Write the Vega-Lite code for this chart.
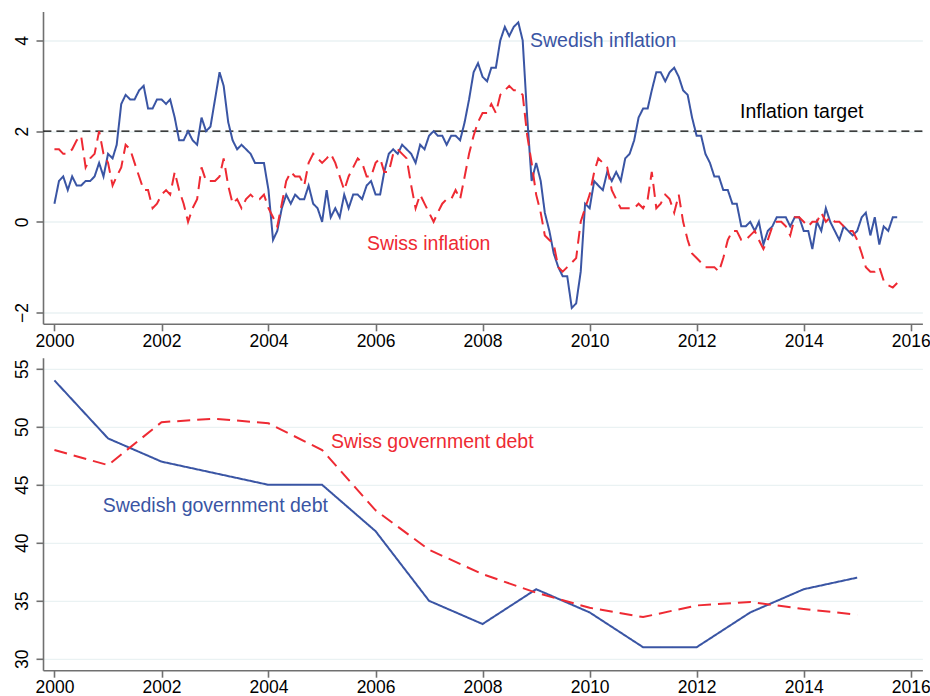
{
  "$schema": "https://vega.github.io/schema/vega-lite/v6.json",
  "background": "white",
  "padding": {"left": 13, "top": 11.5, "right": 5, "bottom": 0},
  "config": {
    "font": "Liberation Sans",
    "view": {"stroke": null},
    "axis": {
      "domainColor": "#707070", "domainWidth": 1.6,
      "tickColor": "#707070", "tickWidth": 1.6, "tickSize": 7,
      "labelFont": "Liberation Sans", "labelFontSize": 17.5, "labelColor": "#000000",
      "gridColor": "#eaf2f3", "gridWidth": 1.3,
      "title": null, "labelFlush": false, "labelOverlap": false
    }
  },
  "datasets": {
    "inflation": [
      {"date":"2000-01","country":"Sweden","cpi":0.4},{"date":"2000-02","country":"Sweden","cpi":0.9},{"date":"2000-03","country":"Sweden","cpi":1.0},{"date":"2000-04","country":"Sweden","cpi":0.7},{"date":"2000-05","country":"Sweden","cpi":1.0},{"date":"2000-06","country":"Sweden","cpi":0.8},{"date":"2000-07","country":"Sweden","cpi":0.8},{"date":"2000-08","country":"Sweden","cpi":0.9},{"date":"2000-09","country":"Sweden","cpi":0.9},{"date":"2000-10","country":"Sweden","cpi":1.0},{"date":"2000-11","country":"Sweden","cpi":1.3},{"date":"2000-12","country":"Sweden","cpi":1.0},
      {"date":"2001-01","country":"Sweden","cpi":1.5},{"date":"2001-02","country":"Sweden","cpi":1.4},{"date":"2001-03","country":"Sweden","cpi":1.7},{"date":"2001-04","country":"Sweden","cpi":2.6},{"date":"2001-05","country":"Sweden","cpi":2.8},{"date":"2001-06","country":"Sweden","cpi":2.7},{"date":"2001-07","country":"Sweden","cpi":2.7},{"date":"2001-08","country":"Sweden","cpi":2.9},{"date":"2001-09","country":"Sweden","cpi":3.0},{"date":"2001-10","country":"Sweden","cpi":2.5},{"date":"2001-11","country":"Sweden","cpi":2.5},{"date":"2001-12","country":"Sweden","cpi":2.7},
      {"date":"2002-01","country":"Sweden","cpi":2.7},{"date":"2002-02","country":"Sweden","cpi":2.6},{"date":"2002-03","country":"Sweden","cpi":2.7},{"date":"2002-04","country":"Sweden","cpi":2.3},{"date":"2002-05","country":"Sweden","cpi":1.8},{"date":"2002-06","country":"Sweden","cpi":1.8},{"date":"2002-07","country":"Sweden","cpi":2.0},{"date":"2002-08","country":"Sweden","cpi":1.8},{"date":"2002-09","country":"Sweden","cpi":1.7},{"date":"2002-10","country":"Sweden","cpi":2.3},{"date":"2002-11","country":"Sweden","cpi":2.0},{"date":"2002-12","country":"Sweden","cpi":2.1},
      {"date":"2003-01","country":"Sweden","cpi":2.7},{"date":"2003-02","country":"Sweden","cpi":3.3},{"date":"2003-03","country":"Sweden","cpi":3.0},{"date":"2003-04","country":"Sweden","cpi":2.2},{"date":"2003-05","country":"Sweden","cpi":1.8},{"date":"2003-06","country":"Sweden","cpi":1.6},{"date":"2003-07","country":"Sweden","cpi":1.7},{"date":"2003-08","country":"Sweden","cpi":1.6},{"date":"2003-09","country":"Sweden","cpi":1.5},{"date":"2003-10","country":"Sweden","cpi":1.3},{"date":"2003-11","country":"Sweden","cpi":1.3},{"date":"2003-12","country":"Sweden","cpi":1.3},
      {"date":"2004-01","country":"Sweden","cpi":0.7},{"date":"2004-02","country":"Sweden","cpi":-0.4},{"date":"2004-03","country":"Sweden","cpi":-0.2},{"date":"2004-04","country":"Sweden","cpi":0.3},{"date":"2004-05","country":"Sweden","cpi":0.6},{"date":"2004-06","country":"Sweden","cpi":0.4},{"date":"2004-07","country":"Sweden","cpi":0.6},{"date":"2004-08","country":"Sweden","cpi":0.5},{"date":"2004-09","country":"Sweden","cpi":0.5},{"date":"2004-10","country":"Sweden","cpi":0.8},{"date":"2004-11","country":"Sweden","cpi":0.4},{"date":"2004-12","country":"Sweden","cpi":0.3},
      {"date":"2005-01","country":"Sweden","cpi":0.0},{"date":"2005-02","country":"Sweden","cpi":0.7},{"date":"2005-03","country":"Sweden","cpi":0.1},{"date":"2005-04","country":"Sweden","cpi":0.3},{"date":"2005-05","country":"Sweden","cpi":0.1},{"date":"2005-06","country":"Sweden","cpi":0.6},{"date":"2005-07","country":"Sweden","cpi":0.3},{"date":"2005-08","country":"Sweden","cpi":0.6},{"date":"2005-09","country":"Sweden","cpi":0.6},{"date":"2005-10","country":"Sweden","cpi":0.5},{"date":"2005-11","country":"Sweden","cpi":0.8},{"date":"2005-12","country":"Sweden","cpi":0.9},
      {"date":"2006-01","country":"Sweden","cpi":0.6},{"date":"2006-02","country":"Sweden","cpi":0.6},{"date":"2006-03","country":"Sweden","cpi":1.1},{"date":"2006-04","country":"Sweden","cpi":1.5},{"date":"2006-05","country":"Sweden","cpi":1.6},{"date":"2006-06","country":"Sweden","cpi":1.5},{"date":"2006-07","country":"Sweden","cpi":1.7},{"date":"2006-08","country":"Sweden","cpi":1.6},{"date":"2006-09","country":"Sweden","cpi":1.5},{"date":"2006-10","country":"Sweden","cpi":1.3},{"date":"2006-11","country":"Sweden","cpi":1.7},{"date":"2006-12","country":"Sweden","cpi":1.6},
      {"date":"2007-01","country":"Sweden","cpi":1.9},{"date":"2007-02","country":"Sweden","cpi":2.0},{"date":"2007-03","country":"Sweden","cpi":1.9},{"date":"2007-04","country":"Sweden","cpi":1.9},{"date":"2007-05","country":"Sweden","cpi":1.7},{"date":"2007-06","country":"Sweden","cpi":1.9},{"date":"2007-07","country":"Sweden","cpi":1.9},{"date":"2007-08","country":"Sweden","cpi":1.8},{"date":"2007-09","country":"Sweden","cpi":2.2},{"date":"2007-10","country":"Sweden","cpi":2.7},{"date":"2007-11","country":"Sweden","cpi":3.3},{"date":"2007-12","country":"Sweden","cpi":3.5},
      {"date":"2008-01","country":"Sweden","cpi":3.2},{"date":"2008-02","country":"Sweden","cpi":3.1},{"date":"2008-03","country":"Sweden","cpi":3.4},{"date":"2008-04","country":"Sweden","cpi":3.4},{"date":"2008-05","country":"Sweden","cpi":4.0},{"date":"2008-06","country":"Sweden","cpi":4.3},{"date":"2008-07","country":"Sweden","cpi":4.1},{"date":"2008-08","country":"Sweden","cpi":4.3},{"date":"2008-09","country":"Sweden","cpi":4.4},{"date":"2008-10","country":"Sweden","cpi":4.0},{"date":"2008-11","country":"Sweden","cpi":2.3},{"date":"2008-12","country":"Sweden","cpi":0.9},
      {"date":"2009-01","country":"Sweden","cpi":1.3},{"date":"2009-02","country":"Sweden","cpi":0.9},{"date":"2009-03","country":"Sweden","cpi":0.2},{"date":"2009-04","country":"Sweden","cpi":-0.2},{"date":"2009-05","country":"Sweden","cpi":-0.7},{"date":"2009-06","country":"Sweden","cpi":-1.0},{"date":"2009-07","country":"Sweden","cpi":-1.2},{"date":"2009-08","country":"Sweden","cpi":-1.2},{"date":"2009-09","country":"Sweden","cpi":-1.9},{"date":"2009-10","country":"Sweden","cpi":-1.8},{"date":"2009-11","country":"Sweden","cpi":-1.1},{"date":"2009-12","country":"Sweden","cpi":0.4},
      {"date":"2010-01","country":"Sweden","cpi":0.3},{"date":"2010-02","country":"Sweden","cpi":0.9},{"date":"2010-03","country":"Sweden","cpi":0.8},{"date":"2010-04","country":"Sweden","cpi":0.7},{"date":"2010-05","country":"Sweden","cpi":1.1},{"date":"2010-06","country":"Sweden","cpi":0.9},{"date":"2010-07","country":"Sweden","cpi":1.1},{"date":"2010-08","country":"Sweden","cpi":0.9},{"date":"2010-09","country":"Sweden","cpi":1.4},{"date":"2010-10","country":"Sweden","cpi":1.5},{"date":"2010-11","country":"Sweden","cpi":1.8},{"date":"2010-12","country":"Sweden","cpi":2.3},
      {"date":"2011-01","country":"Sweden","cpi":2.5},{"date":"2011-02","country":"Sweden","cpi":2.5},{"date":"2011-03","country":"Sweden","cpi":2.9},{"date":"2011-04","country":"Sweden","cpi":3.3},{"date":"2011-05","country":"Sweden","cpi":3.3},{"date":"2011-06","country":"Sweden","cpi":3.1},{"date":"2011-07","country":"Sweden","cpi":3.3},{"date":"2011-08","country":"Sweden","cpi":3.4},{"date":"2011-09","country":"Sweden","cpi":3.2},{"date":"2011-10","country":"Sweden","cpi":2.9},{"date":"2011-11","country":"Sweden","cpi":2.8},{"date":"2011-12","country":"Sweden","cpi":2.3},
      {"date":"2012-01","country":"Sweden","cpi":1.9},{"date":"2012-02","country":"Sweden","cpi":1.9},{"date":"2012-03","country":"Sweden","cpi":1.5},{"date":"2012-04","country":"Sweden","cpi":1.3},{"date":"2012-05","country":"Sweden","cpi":1.0},{"date":"2012-06","country":"Sweden","cpi":1.0},{"date":"2012-07","country":"Sweden","cpi":0.7},{"date":"2012-08","country":"Sweden","cpi":0.7},{"date":"2012-09","country":"Sweden","cpi":0.4},{"date":"2012-10","country":"Sweden","cpi":0.4},{"date":"2012-11","country":"Sweden","cpi":-0.1},{"date":"2012-12","country":"Sweden","cpi":-0.1},
      {"date":"2013-01","country":"Sweden","cpi":0.0},{"date":"2013-02","country":"Sweden","cpi":-0.2},{"date":"2013-03","country":"Sweden","cpi":0.0},{"date":"2013-04","country":"Sweden","cpi":-0.5},{"date":"2013-05","country":"Sweden","cpi":-0.2},{"date":"2013-06","country":"Sweden","cpi":-0.1},{"date":"2013-07","country":"Sweden","cpi":0.1},{"date":"2013-08","country":"Sweden","cpi":0.1},{"date":"2013-09","country":"Sweden","cpi":0.1},{"date":"2013-10","country":"Sweden","cpi":-0.1},{"date":"2013-11","country":"Sweden","cpi":0.1},{"date":"2013-12","country":"Sweden","cpi":0.1},
      {"date":"2014-01","country":"Sweden","cpi":-0.2},{"date":"2014-02","country":"Sweden","cpi":-0.2},{"date":"2014-03","country":"Sweden","cpi":-0.6},{"date":"2014-04","country":"Sweden","cpi":0.0},{"date":"2014-05","country":"Sweden","cpi":-0.2},{"date":"2014-06","country":"Sweden","cpi":0.3},{"date":"2014-07","country":"Sweden","cpi":0.0},{"date":"2014-08","country":"Sweden","cpi":-0.2},{"date":"2014-09","country":"Sweden","cpi":-0.4},{"date":"2014-10","country":"Sweden","cpi":-0.1},{"date":"2014-11","country":"Sweden","cpi":-0.2},{"date":"2014-12","country":"Sweden","cpi":-0.3},
      {"date":"2015-01","country":"Sweden","cpi":-0.2},{"date":"2015-02","country":"Sweden","cpi":0.1},{"date":"2015-03","country":"Sweden","cpi":0.2},{"date":"2015-04","country":"Sweden","cpi":-0.3},{"date":"2015-05","country":"Sweden","cpi":0.1},{"date":"2015-06","country":"Sweden","cpi":-0.5},{"date":"2015-07","country":"Sweden","cpi":-0.1},{"date":"2015-08","country":"Sweden","cpi":-0.2},{"date":"2015-09","country":"Sweden","cpi":0.1},{"date":"2015-10","country":"Sweden","cpi":0.1},
      {"date":"2000-01","country":"Switzerland","cpi":1.6},{"date":"2000-02","country":"Switzerland","cpi":1.6},{"date":"2000-03","country":"Switzerland","cpi":1.5},{"date":"2000-04","country":"Switzerland","cpi":1.5},{"date":"2000-05","country":"Switzerland","cpi":1.6},{"date":"2000-06","country":"Switzerland","cpi":1.8},{"date":"2000-07","country":"Switzerland","cpi":1.9},{"date":"2000-08","country":"Switzerland","cpi":1.2},{"date":"2000-09","country":"Switzerland","cpi":1.4},{"date":"2000-10","country":"Switzerland","cpi":1.5},{"date":"2000-11","country":"Switzerland","cpi":2.0},{"date":"2000-12","country":"Switzerland","cpi":1.5},
      {"date":"2001-01","country":"Switzerland","cpi":1.3},{"date":"2001-02","country":"Switzerland","cpi":0.8},{"date":"2001-03","country":"Switzerland","cpi":1.0},{"date":"2001-04","country":"Switzerland","cpi":1.2},{"date":"2001-05","country":"Switzerland","cpi":1.7},{"date":"2001-06","country":"Switzerland","cpi":1.6},{"date":"2001-07","country":"Switzerland","cpi":1.3},{"date":"2001-08","country":"Switzerland","cpi":1.0},{"date":"2001-09","country":"Switzerland","cpi":0.7},{"date":"2001-10","country":"Switzerland","cpi":0.7},{"date":"2001-11","country":"Switzerland","cpi":0.3},{"date":"2001-12","country":"Switzerland","cpi":0.4},
      {"date":"2002-01","country":"Switzerland","cpi":0.6},{"date":"2002-02","country":"Switzerland","cpi":0.7},{"date":"2002-03","country":"Switzerland","cpi":0.6},{"date":"2002-04","country":"Switzerland","cpi":1.1},{"date":"2002-05","country":"Switzerland","cpi":0.7},{"date":"2002-06","country":"Switzerland","cpi":0.4},{"date":"2002-07","country":"Switzerland","cpi":0.0},{"date":"2002-08","country":"Switzerland","cpi":0.3},{"date":"2002-09","country":"Switzerland","cpi":0.5},{"date":"2002-10","country":"Switzerland","cpi":1.2},{"date":"2002-11","country":"Switzerland","cpi":0.9},{"date":"2002-12","country":"Switzerland","cpi":0.9},
      {"date":"2003-01","country":"Switzerland","cpi":0.9},{"date":"2003-02","country":"Switzerland","cpi":1.0},{"date":"2003-03","country":"Switzerland","cpi":1.4},{"date":"2003-04","country":"Switzerland","cpi":0.8},{"date":"2003-05","country":"Switzerland","cpi":0.4},{"date":"2003-06","country":"Switzerland","cpi":0.5},{"date":"2003-07","country":"Switzerland","cpi":0.3},{"date":"2003-08","country":"Switzerland","cpi":0.5},{"date":"2003-09","country":"Switzerland","cpi":0.6},{"date":"2003-10","country":"Switzerland","cpi":0.5},{"date":"2003-11","country":"Switzerland","cpi":0.5},{"date":"2003-12","country":"Switzerland","cpi":0.6},
      {"date":"2004-01","country":"Switzerland","cpi":0.3},{"date":"2004-02","country":"Switzerland","cpi":0.1},{"date":"2004-03","country":"Switzerland","cpi":-0.1},{"date":"2004-04","country":"Switzerland","cpi":0.4},{"date":"2004-05","country":"Switzerland","cpi":0.9},{"date":"2004-06","country":"Switzerland","cpi":1.1},{"date":"2004-07","country":"Switzerland","cpi":1.0},{"date":"2004-08","country":"Switzerland","cpi":1.0},{"date":"2004-09","country":"Switzerland","cpi":0.8},{"date":"2004-10","country":"Switzerland","cpi":1.3},{"date":"2004-11","country":"Switzerland","cpi":1.5},{"date":"2004-12","country":"Switzerland","cpi":1.4},
      {"date":"2005-01","country":"Switzerland","cpi":1.3},{"date":"2005-02","country":"Switzerland","cpi":1.4},{"date":"2005-03","country":"Switzerland","cpi":1.5},{"date":"2005-04","country":"Switzerland","cpi":1.3},{"date":"2005-05","country":"Switzerland","cpi":1.0},{"date":"2005-06","country":"Switzerland","cpi":0.7},{"date":"2005-07","country":"Switzerland","cpi":1.0},{"date":"2005-08","country":"Switzerland","cpi":1.2},{"date":"2005-09","country":"Switzerland","cpi":1.4},{"date":"2005-10","country":"Switzerland","cpi":1.3},{"date":"2005-11","country":"Switzerland","cpi":1.0},{"date":"2005-12","country":"Switzerland","cpi":1.0},
      {"date":"2006-01","country":"Switzerland","cpi":1.3},{"date":"2006-02","country":"Switzerland","cpi":1.4},{"date":"2006-03","country":"Switzerland","cpi":1.1},{"date":"2006-04","country":"Switzerland","cpi":1.1},{"date":"2006-05","country":"Switzerland","cpi":1.5},{"date":"2006-06","country":"Switzerland","cpi":1.6},{"date":"2006-07","country":"Switzerland","cpi":1.5},{"date":"2006-08","country":"Switzerland","cpi":1.4},{"date":"2006-09","country":"Switzerland","cpi":0.8},{"date":"2006-10","country":"Switzerland","cpi":0.3},{"date":"2006-11","country":"Switzerland","cpi":0.6},{"date":"2006-12","country":"Switzerland","cpi":0.4},
      {"date":"2007-01","country":"Switzerland","cpi":0.2},{"date":"2007-02","country":"Switzerland","cpi":0.0},{"date":"2007-03","country":"Switzerland","cpi":0.2},{"date":"2007-04","country":"Switzerland","cpi":0.4},{"date":"2007-05","country":"Switzerland","cpi":0.5},{"date":"2007-06","country":"Switzerland","cpi":0.5},{"date":"2007-07","country":"Switzerland","cpi":0.7},{"date":"2007-08","country":"Switzerland","cpi":0.5},{"date":"2007-09","country":"Switzerland","cpi":1.0},{"date":"2007-10","country":"Switzerland","cpi":1.5},{"date":"2007-11","country":"Switzerland","cpi":1.9},{"date":"2007-12","country":"Switzerland","cpi":2.2},
      {"date":"2008-01","country":"Switzerland","cpi":2.4},{"date":"2008-02","country":"Switzerland","cpi":2.4},{"date":"2008-03","country":"Switzerland","cpi":2.6},{"date":"2008-04","country":"Switzerland","cpi":2.4},{"date":"2008-05","country":"Switzerland","cpi":2.8},{"date":"2008-06","country":"Switzerland","cpi":2.9},{"date":"2008-07","country":"Switzerland","cpi":3.0},{"date":"2008-08","country":"Switzerland","cpi":2.9},{"date":"2008-09","country":"Switzerland","cpi":2.9},{"date":"2008-10","country":"Switzerland","cpi":2.8},{"date":"2008-11","country":"Switzerland","cpi":1.9},{"date":"2008-12","country":"Switzerland","cpi":1.3},
      {"date":"2009-01","country":"Switzerland","cpi":0.6},{"date":"2009-02","country":"Switzerland","cpi":0.2},{"date":"2009-03","country":"Switzerland","cpi":-0.3},{"date":"2009-04","country":"Switzerland","cpi":-0.4},{"date":"2009-05","country":"Switzerland","cpi":-0.5},{"date":"2009-06","country":"Switzerland","cpi":-1.0},{"date":"2009-07","country":"Switzerland","cpi":-1.1},{"date":"2009-08","country":"Switzerland","cpi":-1.0},{"date":"2009-09","country":"Switzerland","cpi":-0.9},{"date":"2009-10","country":"Switzerland","cpi":-0.8},{"date":"2009-11","country":"Switzerland","cpi":0.0},{"date":"2009-12","country":"Switzerland","cpi":0.3},
      {"date":"2010-01","country":"Switzerland","cpi":0.6},{"date":"2010-02","country":"Switzerland","cpi":1.1},{"date":"2010-03","country":"Switzerland","cpi":1.4},{"date":"2010-04","country":"Switzerland","cpi":1.3},{"date":"2010-05","country":"Switzerland","cpi":1.2},{"date":"2010-06","country":"Switzerland","cpi":0.7},{"date":"2010-07","country":"Switzerland","cpi":0.5},{"date":"2010-08","country":"Switzerland","cpi":0.3},{"date":"2010-09","country":"Switzerland","cpi":0.3},{"date":"2010-10","country":"Switzerland","cpi":0.3},{"date":"2010-11","country":"Switzerland","cpi":0.3},{"date":"2010-12","country":"Switzerland","cpi":0.4},
      {"date":"2011-01","country":"Switzerland","cpi":0.3},{"date":"2011-02","country":"Switzerland","cpi":0.5},{"date":"2011-03","country":"Switzerland","cpi":1.1},{"date":"2011-04","country":"Switzerland","cpi":0.3},{"date":"2011-05","country":"Switzerland","cpi":0.4},{"date":"2011-06","country":"Switzerland","cpi":0.6},{"date":"2011-07","country":"Switzerland","cpi":0.5},{"date":"2011-08","country":"Switzerland","cpi":0.2},{"date":"2011-09","country":"Switzerland","cpi":0.6},{"date":"2011-10","country":"Switzerland","cpi":0.0},{"date":"2011-11","country":"Switzerland","cpi":-0.4},{"date":"2011-12","country":"Switzerland","cpi":-0.7},
      {"date":"2012-01","country":"Switzerland","cpi":-0.8},{"date":"2012-02","country":"Switzerland","cpi":-0.9},{"date":"2012-03","country":"Switzerland","cpi":-1.0},{"date":"2012-04","country":"Switzerland","cpi":-1.0},{"date":"2012-05","country":"Switzerland","cpi":-1.0},{"date":"2012-06","country":"Switzerland","cpi":-1.1},{"date":"2012-07","country":"Switzerland","cpi":-0.8},{"date":"2012-08","country":"Switzerland","cpi":-0.4},{"date":"2012-09","country":"Switzerland","cpi":-0.2},{"date":"2012-10","country":"Switzerland","cpi":-0.2},{"date":"2012-11","country":"Switzerland","cpi":-0.4},{"date":"2012-12","country":"Switzerland","cpi":-0.4},
      {"date":"2013-01","country":"Switzerland","cpi":-0.3},{"date":"2013-02","country":"Switzerland","cpi":-0.2},{"date":"2013-03","country":"Switzerland","cpi":-0.4},{"date":"2013-04","country":"Switzerland","cpi":-0.6},{"date":"2013-05","country":"Switzerland","cpi":-0.4},{"date":"2013-06","country":"Switzerland","cpi":-0.1},{"date":"2013-07","country":"Switzerland","cpi":0.0},{"date":"2013-08","country":"Switzerland","cpi":0.0},{"date":"2013-09","country":"Switzerland","cpi":-0.1},{"date":"2013-10","country":"Switzerland","cpi":-0.3},{"date":"2013-11","country":"Switzerland","cpi":0.1},{"date":"2013-12","country":"Switzerland","cpi":0.1},
      {"date":"2014-01","country":"Switzerland","cpi":0.0},{"date":"2014-02","country":"Switzerland","cpi":-0.1},{"date":"2014-03","country":"Switzerland","cpi":0.0},{"date":"2014-04","country":"Switzerland","cpi":0.0},{"date":"2014-05","country":"Switzerland","cpi":0.2},{"date":"2014-06","country":"Switzerland","cpi":0.0},{"date":"2014-07","country":"Switzerland","cpi":0.1},{"date":"2014-08","country":"Switzerland","cpi":0.0},{"date":"2014-09","country":"Switzerland","cpi":0.0},{"date":"2014-10","country":"Switzerland","cpi":-0.1},{"date":"2014-11","country":"Switzerland","cpi":-0.2},{"date":"2014-12","country":"Switzerland","cpi":-0.2},
      {"date":"2015-01","country":"Switzerland","cpi":-0.4},{"date":"2015-02","country":"Switzerland","cpi":-0.7},{"date":"2015-03","country":"Switzerland","cpi":-1.0},{"date":"2015-04","country":"Switzerland","cpi":-1.1},{"date":"2015-05","country":"Switzerland","cpi":-1.1},{"date":"2015-06","country":"Switzerland","cpi":-1.0},{"date":"2015-07","country":"Switzerland","cpi":-1.3},{"date":"2015-08","country":"Switzerland","cpi":-1.4},{"date":"2015-09","country":"Switzerland","cpi":-1.45},{"date":"2015-10","country":"Switzerland","cpi":-1.35}
    ],
    "target": [{"cpi": 2}],
    "labelsTop": [
      {"date": "2008-11-20", "cpi": 4.0, "label": "Swedish inflation", "country": "Sweden"},
      {"date": "2012-10-23", "cpi": 2.42, "label": "Inflation target", "country": "Target"},
      {"date": "2005-11-03", "cpi": -0.49, "label": "Swiss inflation", "country": "Switzerland"}
    ],
    "debt": [
      {"date":"2000","country":"Sweden","debt":54},{"date":"2001","country":"Sweden","debt":49},{"date":"2002","country":"Sweden","debt":47},{"date":"2003","country":"Sweden","debt":46},{"date":"2004","country":"Sweden","debt":45},{"date":"2005","country":"Sweden","debt":45},{"date":"2006","country":"Sweden","debt":41},{"date":"2007","country":"Sweden","debt":35},{"date":"2008","country":"Sweden","debt":33},{"date":"2009","country":"Sweden","debt":36},{"date":"2010","country":"Sweden","debt":34},{"date":"2011","country":"Sweden","debt":31},{"date":"2012","country":"Sweden","debt":31},{"date":"2013","country":"Sweden","debt":34},{"date":"2014","country":"Sweden","debt":36},{"date":"2015","country":"Sweden","debt":37},
      {"date":"2000","country":"Switzerland","debt":48.0},{"date":"2001","country":"Switzerland","debt":46.7},{"date":"2002","country":"Switzerland","debt":50.4},{"date":"2003","country":"Switzerland","debt":50.7},{"date":"2004","country":"Switzerland","debt":50.3},{"date":"2005","country":"Switzerland","debt":48.0},{"date":"2006","country":"Switzerland","debt":42.8},{"date":"2007","country":"Switzerland","debt":39.4},{"date":"2008","country":"Switzerland","debt":37.3},{"date":"2009","country":"Switzerland","debt":35.7},{"date":"2010","country":"Switzerland","debt":34.4},{"date":"2011","country":"Switzerland","debt":33.6},{"date":"2012","country":"Switzerland","debt":34.6},{"date":"2013","country":"Switzerland","debt":34.9},{"date":"2014","country":"Switzerland","debt":34.3},{"date":"2015","country":"Switzerland","debt":33.8}
    ],
    "labelsBottom": [
      {"date": "2005-03-03", "debt": 48.7, "label": "Swiss government debt", "country": "Switzerland"},
      {"date": "2000-11-25", "debt": 43.15, "label": "Swedish government debt", "country": "Sweden"}
    ]
  },
  "bounds": "flush",
  "spacing": 33.3,
  "vconcat": [
    {
      "width": 879.4,
      "height": 312.3,
      "layer": [
        {
          "data": {"name": "target"},
          "mark": {"type": "rule", "color": "#000000", "strokeWidth": 1.3, "strokeDash": [8, 5]},
          "encoding": {"y": {"field": "cpi", "type": "quantitative"}}
        },
        {
          "data": {"name": "inflation"},
          "mark": {"type": "line", "strokeWidth": 2},
          "encoding": {
            "x": {"field": "date", "type": "temporal",
              "scale": {"type": "utc", "nice": false, "domain": [{"year": 1999, "month": 10, "date": 15, "utc": true}, {"year": 2016, "month": 3, "date": 21, "utc": true}]},
              "axis": {"grid": false, "format": "%Y", "labelPadding": 2,
                "values": [{"year": 2000, "utc": true}, {"year": 2002, "utc": true}, {"year": 2004, "utc": true}, {"year": 2006, "utc": true}, {"year": 2008, "utc": true}, {"year": 2010, "utc": true}, {"year": 2012, "utc": true}, {"year": 2014, "utc": true}, {"year": 2016, "utc": true}]}},
            "y": {"field": "cpi", "type": "quantitative",
              "scale": {"domain": [-2.25, 4.64], "nice": false, "zero": false},
              "axis": {"values": [-2, 0, 2, 4], "grid": true, "labelAngle": -90, "labelAlign": "center", "labelBaseline": "alphabetic", "labelPadding": 8.5}},
            "color": {"field": "country", "type": "nominal", "legend": null,
              "scale": {"domain": ["Sweden", "Switzerland", "Target"], "range": ["#3a55a4", "#ee2a33", "#000000"]}},
            "strokeDash": {"field": "country", "type": "nominal", "legend": null,
              "scale": {"domain": ["Sweden", "Switzerland"], "range": [[1, 0], [13, 7]]}}
          }
        },
        {
          "data": {"name": "labelsTop"},
          "mark": {"type": "text", "align": "left", "baseline": "middle", "fontSize": 19.5, "font": "Liberation Sans"},
          "encoding": {
            "x": {"field": "date", "type": "temporal"},
            "y": {"field": "cpi", "type": "quantitative"},
            "text": {"field": "label"},
            "color": {"field": "country", "type": "nominal", "legend": null,
              "scale": {"domain": ["Sweden", "Switzerland", "Target"], "range": ["#3a55a4", "#ee2a33", "#000000"]}}
          }
        }
      ]
    },
    {
      "width": 879.4,
      "height": 312.4,
      "layer": [
        {
          "data": {"name": "debt"},
          "mark": {"type": "line", "strokeWidth": 2},
          "encoding": {
            "x": {"field": "date", "type": "temporal",
              "scale": {"type": "utc", "nice": false, "domain": [{"year": 1999, "month": 10, "date": 15, "utc": true}, {"year": 2016, "month": 3, "date": 21, "utc": true}]},
              "axis": {"grid": false, "format": "%Y", "labelPadding": 1.5,
                "values": [{"year": 2000, "utc": true}, {"year": 2002, "utc": true}, {"year": 2004, "utc": true}, {"year": 2006, "utc": true}, {"year": 2008, "utc": true}, {"year": 2010, "utc": true}, {"year": 2012, "utc": true}, {"year": 2014, "utc": true}, {"year": 2016, "utc": true}]}},
            "y": {"field": "debt", "type": "quantitative",
              "scale": {"domain": [29.02, 55.95], "nice": false, "zero": false},
              "axis": {"values": [30, 35, 40, 45, 50, 55], "grid": true, "labelAngle": -90, "labelAlign": "center", "labelBaseline": "alphabetic", "labelPadding": 8.5}},
            "color": {"field": "country", "type": "nominal", "legend": null,
              "scale": {"domain": ["Sweden", "Switzerland"], "range": ["#3a55a4", "#ee2a33"]}},
            "strokeDash": {"field": "country", "type": "nominal", "legend": null,
              "scale": {"domain": ["Sweden", "Switzerland"], "range": [[1, 0], [13, 7]]}}
          }
        },
        {
          "data": {"name": "labelsBottom"},
          "mark": {"type": "text", "align": "left", "baseline": "middle", "fontSize": 19.5, "font": "Liberation Sans"},
          "encoding": {
            "x": {"field": "date", "type": "temporal"},
            "y": {"field": "debt", "type": "quantitative"},
            "text": {"field": "label"},
            "color": {"field": "country", "type": "nominal", "legend": null,
              "scale": {"domain": ["Sweden", "Switzerland"], "range": ["#3a55a4", "#ee2a33"]}}
          }
        }
      ]
    }
  ]
}
